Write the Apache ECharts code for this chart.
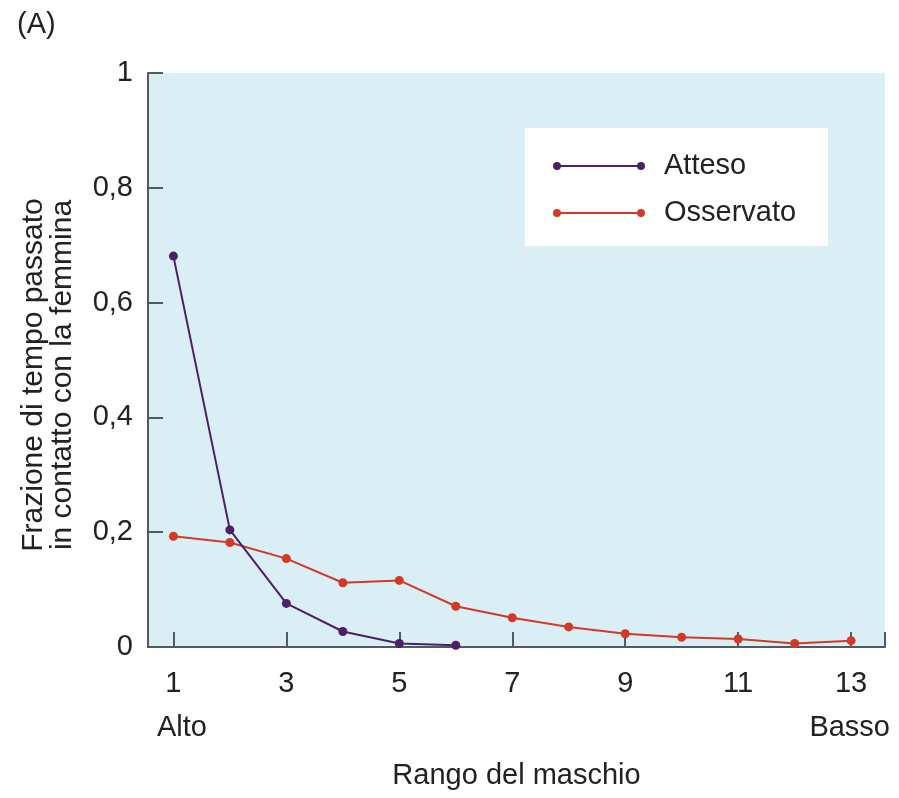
<!DOCTYPE html>
<html><head><meta charset="utf-8">
<script src="https://cdn.jsdelivr.net/npm/echarts@6/dist/echarts.min.js"></script>
<style>html,body{margin:0;padding:0;background:#fff}#c{width:899px;height:798px}</style>
</head><body><div id="c"></div>
<script>
const ranks = [1,2,3,4,5,6,7,8,9,10,11,12,13];
const attesoRanks = [1,2,3,4,5,6];
const attesoValues = [0.681,0.204,0.076,0.027,0.006,0.003];
const osservatoValues = [0.193,0.182,0.154,0.112,0.116,0.071,0.051,0.035,0.023,0.017,0.014,0.006,0.011];
const xTickLabels = [1,3,5,7,9,11,13];
const yTicks = [0,0.2,0.4,0.6,0.8,1];

const FONT = '"Liberation Sans", Arial, sans-serif';
const FS = 29;
const PURPLE = '#4b206a';
const RED = '#d23a26';
const AXIS = '#4f5a63';
const TXT = '#222';

const chart = echarts.init(document.getElementById('c'));
const legendIcon = 'path://M0,5 A4,4 0 1 1 8,5 A4,4 0 1 1 0,5 Z M4,4 L88,4 L88,6 L4,6 Z M84,5 A4,4 0 1 1 92,5 A4,4 0 1 1 84,5 Z';
chart.setOption({
  animation: false,
  textStyle: {fontFamily: FONT},
  grid: {left: 148, right: 14, top: 73, bottom: 151, show: true, backgroundColor: '#daeef5', borderWidth: 0, outerBoundsMode: 'none', containLabel: false},
  graphic: [
    {type: 'rect', left: 525, top: 128, shape: {width: 303, height: 118}, style: {fill: '#fff'}, z: 5},
    {type: 'text', left: 17, top: 10, style: {text: '(A)', font: FS + 'px ' + FONT, fill: TXT}},
    {type: 'text', left: 157, top: 713, style: {text: 'Alto', font: FS + 'px ' + FONT, fill: TXT}},
    {type: 'text', right: 9, top: 713, style: {text: 'Basso', font: FS + 'px ' + FONT, fill: TXT}},
    {type: 'text', x: 48, y: 375, rotation: Math.PI / 2,
     style: {text: 'Frazione di tempo passato\nin contatto con la femmina', font: '30px ' + FONT, fill: TXT,
             align: 'center', verticalAlign: 'middle', lineHeight: 29}}
  ],
  legend: {
    left: 553, top: 151, orient: 'vertical', itemWidth: 92, itemHeight: 8, itemGap: 17, z: 10, padding: 0,
    data: [{name: 'Atteso', icon: legendIcon}, {name: 'Osservato', icon: legendIcon}],
    textStyle: {fontSize: FS, color: TXT, fontFamily: FONT, lineHeight: 30, padding: [0,0,0,14]}
  },
  xAxis: {
    type: 'value', min: 0.55, max: 13.6,
    name: 'Rango del maschio', nameLocation: 'middle', nameGap: 114,
    nameTextStyle: {fontSize: FS, color: TXT, fontFamily: FONT},
    axisLine: {show: true, onZero: false, lineStyle: {color: AXIS, width: 2}},
    axisTick: {show: true, inside: true, length: 15, customValues: xTickLabels.concat([13.6]), lineStyle: {color: AXIS, width: 2}},
    axisLabel: {customValues: xTickLabels, fontSize: FS, color: TXT, margin: 22, fontFamily: FONT},
    splitLine: {show: false}
  },
  yAxis: {
    type: 'value', min: 0, max: 1, interval: 0.2,
    axisLine: {show: true, lineStyle: {color: AXIS, width: 2}},
    axisTick: {show: true, inside: true, length: 15, lineStyle: {color: AXIS, width: 2}},
    axisLabel: {fontSize: FS, color: TXT, margin: 15, fontFamily: FONT,
      formatter: v => String(+v.toFixed(1)).replace('.', ',')},
    splitLine: {show: false}
  },
  series: [
    {name: 'Atteso', type: 'line', data: attesoRanks.map((r,i) => [r, attesoValues[i]]),
     symbol: 'circle', symbolSize: 9, color: PURPLE, lineStyle: {color: PURPLE, width: 2}, itemStyle: {color: PURPLE}, z: 3},
    {name: 'Osservato', type: 'line', data: ranks.map((r,i) => [r, osservatoValues[i]]),
     symbol: 'circle', symbolSize: 9, color: RED, lineStyle: {color: RED, width: 2}, itemStyle: {color: RED}, z: 2}
  ]
});
</script></body></html>
